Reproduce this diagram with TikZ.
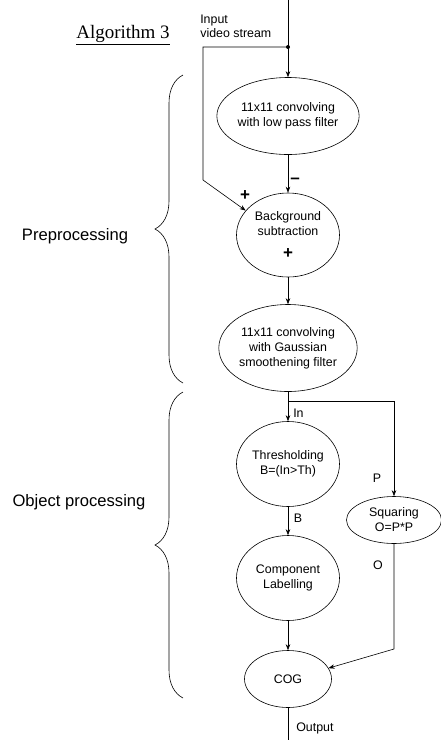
\documentclass[tikz,border=0pt]{standalone}
\usepackage{fontspec}
\setmainfont{Liberation Sans}
\newfontfamily\algfont{Liberation Serif}
\usetikzlibrary{shapes.geometric,arrows.meta,decorations.pathreplacing}

\begin{document}
\begin{tikzpicture}[x=1pt,y=-1pt,line width=0.6pt,
  stage/.style={ellipse,draw,inner sep=0pt,align=center,font=\fontsize{12.4}{15}\selectfont},
  tag/.style={inner sep=0pt,font=\fontsize{12.4}{14}\selectfont},
  group/.style={inner sep=0pt,font=\fontsize{16.6}{20}\selectfont},
  sign/.style={inner sep=0pt,font=\fontsize{17}{17}\selectfont\bfseries},
  flow/.style={-{Stealth[length=6pt,width=4.5pt]}},
  bracket/.style={decorate,decoration={brace,amplitude=28pt}}]

  \useasboundingbox (0,0) rectangle (441,740);

  \node[stage,minimum width=134pt,minimum height=77pt] (lowpass) at (288,116) {11x11 convolving\\with low pass filter};
  \node[stage,minimum width=103pt,minimum height=84pt] (bgsub) at (288,235) {Background\\subtraction\\[8pt]{\fontsize{17}{17}\selectfont\bfseries +}};
  \node[stage,minimum width=127pt,minimum height=87pt] (gauss) at (288,348) {11x11 convolving\\with Gaussian\\smoothening filter};
  \node[stage,minimum width=103pt,minimum height=85pt] (thresh) at (288,464) {Thresholding\\B=(In>Th)};
  \node[stage,minimum width=95pt,minimum height=47pt] (square) at (394,520) {Squaring\\O=P*P};
  \node[stage,minimum width=103pt,minimum height=85pt] (comp) at (288,578) {Component\\Labelling};
  \node[stage,minimum width=87pt,minimum height=57pt] (cog) at (288,679) {COG};

  \coordinate (top) at (288,0);
  \coordinate (split) at (288,47);
  \coordinate (corner) at (203,47);
  \coordinate (bend) at (203,180);
  \coordinate (branch) at (288,401);
  \coordinate (sqbend) at (394,649);
  \coordinate (out) at (288,740);

  \draw[flow] (top) -- (lowpass);
  \fill (split) circle (2pt);
  \draw[flow] (split) -- (corner) -- (bend) -- (bgsub.150);
  \draw[flow] (lowpass) -- (bgsub);
  \draw[flow] (bgsub) -- (gauss);
  \draw[flow] (gauss) -- (thresh);
  \draw[flow] (branch) -| (square);
  \draw[flow] (thresh) -- (comp);
  \draw[flow] (square) -- (sqbend) -- (cog.15);
  \draw[flow] (comp) -- (cog);
  \draw (cog) -- (out);

  \node[sign] (minus) at (295,181) {--};
  \node[sign] (plus) at (245,196) {+};

  \node[tag,anchor=north west,align=left,font=\fontsize{12.4}{13.5}\selectfont] (input) at (200,15) {Input\\video stream};
  \node[tag,anchor=west] (intag) at (293,413) {In};
  \node[tag] (ptag) at (377,478) {P};
  \node[tag] (btag) at (298,518) {B};
  \node[tag] (otag) at (378,565) {O};
  \node[tag,anchor=west] (outtag) at (296,728) {Output};

  \node[inner sep=0pt,font=\algfont\fontsize{19}{22}\selectfont] (title) at (123,35) {\underline{Algorithm 3}};

  \draw[bracket] (183,383) -- (183,75);
  \draw[bracket] (183,698) -- (183,392);
  \node[group] (prep) at (75,236) {Preprocessing};
  \node[group] (objproc) at (79,502) {Object processing};
\end{tikzpicture}
\end{document}
